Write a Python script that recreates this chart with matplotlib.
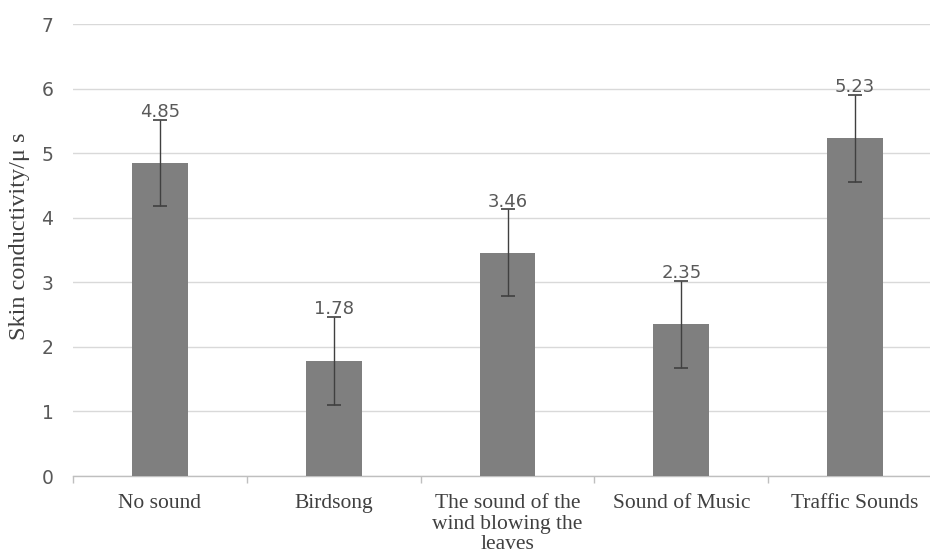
import matplotlib
matplotlib.use("Agg")
import matplotlib.pyplot as plt
import numpy as np

categories = ["No sound", "Birdsong", "The sound of the\nwind blowing the\nleaves", "Sound of Music", "Traffic Sounds"]
values = [4.85, 1.78, 3.46, 2.35, 5.23]
errors = [0.67, 0.68, 0.67, 0.67, 0.67]
yticks = [0, 1, 2, 3, 4, 5, 6, 7]

W, H = 930, 557
fig = plt.figure(figsize=(W / 100, H / 100), dpi=100)
ax = fig.add_axes([73 / W, 81 / H, 869 / W, 452 / H])

x = np.arange(len(categories))
ax.bar(x, values, width=0.32, color="#7f7f7f", zorder=3)
ax.errorbar(x, values, yerr=errors, fmt="none", ecolor="#404040", elinewidth=1.0,
            capsize=5, capthick=1.2, zorder=4)
for xi, v, e in zip(x, values, errors):
    ax.text(xi, v + e - 0.02, f"{v:.2f}", ha="center", va="bottom", fontsize=13,
            color="#595959", family="DejaVu Sans", zorder=5)

ax.set_xlim(-0.5, len(categories) - 0.5)
ax.set_ylim(0, 7)
ax.set_yticks(yticks)
ax.set_yticklabels([str(t) for t in yticks], fontsize=13.5, color="#595959")
ax.yaxis.grid(True, color="#d9d9d9", linewidth=1.0, zorder=0)
ax.set_axisbelow(True)
ax.tick_params(axis="y", length=0, pad=14)

ax.set_xticks(x)
ax.set_xticklabels(categories, fontsize=15.5, family="Liberation Serif", color="#404040",
                   linespacing=1.12)
ax.tick_params(axis="x", which="major", length=0, pad=13)
ax.set_xticks(np.arange(-0.5, len(categories), 1.0), minor=True)
ax.tick_params(axis="x", which="minor", length=5, color="#bfbfbf", width=1, direction="out")

for s in ["top", "right", "left"]:
    ax.spines[s].set_visible(False)
ax.spines["bottom"].set_color("#bfbfbf")
ax.spines["bottom"].set_linewidth(1.0)

ax.set_ylabel("Skin conductivity/μ s", fontsize=17.5, family="Liberation Serif", color="#404040")
ax.yaxis.set_label_coords(-0.050, 0.53)

fig.savefig("out.png", dpi=100)
